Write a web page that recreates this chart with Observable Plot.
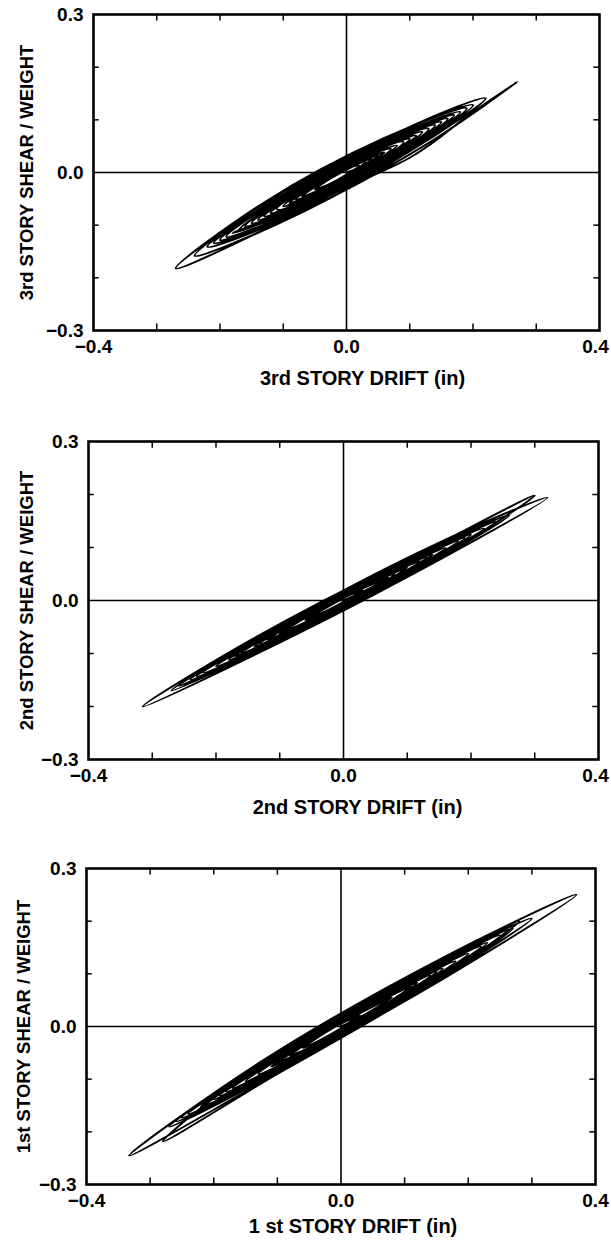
<!DOCTYPE html>
<html><head><meta charset="utf-8">
<script src="https://cdn.jsdelivr.net/npm/d3@7"></script>
<script src="https://cdn.jsdelivr.net/npm/@observablehq/plot@0.6"></script>
<style>
html,body{margin:0;padding:0;background:#fff;}
#chart{position:relative;width:611px;height:1247px;overflow:hidden;background:#fff;}
#chart svg{position:absolute;left:0;}
</style></head><body><div id="chart"></div>
<script>
// ---- 3rd story (top panel) ----
const drift3 = [0.00,
 0.018, 0.042, 0.06,
 0.018, -0.038, -0.08,
 -0.02, 0.06, 0.12,
 0.039, -0.069, -0.15,
 -0.051, 0.081, 0.18,
 0.066, -0.086, -0.20,
 -0.092, 0.052, 0.16,
 0.046, -0.106, -0.22,
 -0.073, 0.123, 0.27,
 0.20, 0.10, -0.18,
 -0.066, 0.086, 0.20,
 0.059, -0.129, -0.27,
 -0.147, 0.017, 0.14,
 0.041, -0.091, -0.19,
 -0.067, 0.097, 0.22,
 0.106, -0.046, -0.16,
 -0.076, 0.036, 0.12,
 0.021, -0.111, -0.21,
 -0.096, 0.056, 0.17,
 0.08, -0.04, -0.13,
 -0.061, 0.031, 0.10,
 0.019, -0.089, -0.17,
 -0.074, 0.054, 0.15,
 0.069, -0.039, -0.12,
 -0.06, 0.02, 0.08,
 0.014, -0.074, -0.14,
 -0.065, 0.035, 0.11,
 0.047, -0.037, -0.10,
 -0.052, 0.012, 0.06,
 0.015, -0.045, -0.09,
 -0.048, 0.008, 0.05,
 0.014, -0.034, -0.07,
 -0.037, 0.007, 0.04,
 0.013, -0.023, -0.05,
 -0.029, 0.00, 0.02,
 -0.022, -0.078, -0.12,
 -0.057, 0.027, 0.09,
 0.015, -0.085, -0.16,
 -0.073, 0.043, 0.13,
 0.019, -0.129, -0.24,
 -0.111, 0.061, 0.19,
 0.10, -0.02, -0.11,
 -0.029, 0.079, 0.16,
 0.055, -0.085, -0.19,
 -0.112, -0.008, 0.07,
 0.025, -0.035, -0.08,
 -0.047, 0.00, 0.03];
const shear3 = [0.000,
 0.008, 0.023, 0.038,
 0.020, -0.016, -0.051,
 -0.025, 0.026, 0.077,
 0.041, -0.028, -0.096,
 -0.053, 0.032, 0.115,
 0.064, -0.033, -0.128,
 -0.080, 0.012, 0.102,
 0.051, -0.046, -0.141,
 -0.075, 0.051, 0.172,
 0.115, 0.028, -0.115,
 -0.064, 0.033, 0.128,
 0.065, -0.056, -0.182,
 -0.118, -0.013, 0.090,
 0.046, -0.038, -0.122,
 -0.067, 0.038, 0.141,
 0.090, -0.007, -0.102,
 -0.066, 0.006, 0.077,
 0.033, -0.051, -0.134,
 -0.083, 0.014, 0.109,
 0.069, -0.008, -0.083,
 -0.053, 0.006, 0.064,
 0.028, -0.041, -0.109,
 -0.066, 0.016, 0.096,
 0.060, -0.009, -0.077,
 -0.050, 0.001, 0.051,
 0.022, -0.034, -0.090,
 -0.057, 0.007, 0.070,
 0.043, -0.011, -0.064,
 -0.043, -0.002, 0.038,
 0.019, -0.020, -0.058,
 -0.039, -0.003, 0.032,
 0.016, -0.015, -0.045,
 -0.030, -0.002, 0.026,
 0.013, -0.010, -0.032,
 -0.023, -0.004, 0.013,
 -0.002, -0.038, -0.077,
 -0.054, -0.001, 0.058,
 0.030, -0.034, -0.102,
 -0.069, 0.006, 0.083,
 0.037, -0.058, -0.158,
 -0.099, 0.011, 0.122,
 0.086, 0.009, -0.070,
 -0.039, 0.031, 0.102,
 0.059, -0.030, -0.122,
 -0.092, -0.025, 0.045,
 0.028, -0.010, -0.051,
 -0.038, -0.008, 0.019];

// ---- 2nd story (middle panel) ----
const drift2 = [0.00,
 0.021, 0.049, 0.07,
 0.019, -0.049, -0.10,
 -0.028, 0.068, 0.14,
 0.044, -0.084, -0.18,
 -0.066, 0.086, 0.20,
 0.068, -0.108, -0.24,
 -0.09, 0.11, 0.26,
 0.088, -0.143, -0.315,
 -0.13, 0.116, 0.30,
 0.144, -0.064, -0.22,
 -0.058, 0.158, 0.32,
 0.146, -0.086, -0.26,
 -0.128, 0.048, 0.18,
 0.066, -0.086, -0.20,
 -0.074, 0.094, 0.22,
 0.112, -0.032, -0.14,
 -0.05, 0.07, 0.16,
 0.061, -0.071, -0.17,
 -0.083, 0.033, 0.12,
 0.048, -0.048, -0.12,
 -0.054, 0.034, 0.10,
 0.043, -0.033, -0.09,
 -0.045, 0.015, 0.06,
 0.027, -0.017, -0.05,
 -0.026, 0.006, 0.03,
 -0.027, -0.103, -0.16,
 -0.073, 0.043, 0.13,
 0.022, -0.122, -0.23,
 -0.089, 0.099, 0.24,
 0.129, 0.00, -0.13,
 -0.034, 0.094, 0.19,
 0.052, -0.132, -0.27,
 -0.165, -0.025, 0.08,
 0.038, -0.018, -0.06,
 -0.036, 0.004, 0.02];
const shear2 = [0.000,
 0.011, 0.028, 0.043,
 0.017, -0.025, -0.062,
 -0.024, 0.035, 0.087,
 0.037, -0.042, -0.112,
 -0.052, 0.042, 0.124,
 0.055, -0.054, -0.149,
 -0.071, 0.053, 0.161,
 0.071, -0.073, -0.200,
 -0.097, 0.056, 0.198,
 0.104, -0.025, -0.136,
 -0.052, 0.082, 0.194,
 0.107, -0.037, -0.161,
 -0.092, 0.017, 0.112,
 0.052, -0.042, -0.124,
 -0.059, 0.045, 0.136,
 0.080, -0.009, -0.087,
 -0.040, 0.034, 0.099,
 0.048, -0.034, -0.105,
 -0.060, 0.011, 0.074,
 0.037, -0.023, -0.074,
 -0.040, 0.014, 0.062,
 0.033, -0.014, -0.056,
 -0.033, 0.004, 0.037,
 0.021, -0.007, -0.031,
 -0.019, 0.001, 0.019,
 -0.009, -0.056, -0.099,
 -0.055, 0.017, 0.081,
 0.026, -0.064, -0.143,
 -0.069, 0.047, 0.149,
 0.092, 0.012, -0.081,
 -0.032, 0.047, 0.118,
 0.046, -0.068, -0.170,
 -0.114, -0.028, 0.050,
 0.030, -0.005, -0.037,
 -0.026, -0.002, 0.012];

// ---- 1st story (bottom panel) ----
const drift1 = [0.00,
 0.024, 0.056, 0.08,
 0.023, -0.053, -0.11,
 -0.032, 0.072, 0.15,
 0.048, -0.088, -0.19,
 -0.067, 0.097, 0.22,
 0.079, -0.109, -0.25,
 -0.094, 0.114, 0.27,
 0.105, -0.115, -0.28,
 -0.085, 0.175, 0.37,
 0.159, -0.122, -0.333,
 -0.143, 0.11, 0.30,
 0.132, -0.092, -0.26,
 -0.107, 0.097, 0.25,
 0.109, -0.079, -0.22,
 -0.094, 0.074, 0.20,
 0.068, -0.108, -0.24,
 -0.114, 0.054, 0.18,
 0.075, -0.065, -0.17,
 -0.077, 0.047, 0.14,
 0.053, -0.063, -0.15,
 -0.072, 0.032, 0.11,
 0.047, -0.037, -0.10,
 -0.049, 0.019, 0.07,
 0.031, -0.021, -0.06,
 -0.033, 0.003, 0.03,
 -0.039, -0.131, -0.20,
 -0.092, 0.052, 0.16,
 0.031, -0.141, -0.27,
 -0.12, 0.08, 0.23,
 0.122, -0.022, -0.13,
 -0.007, 0.157, 0.28,
 0.142, -0.042, -0.18,
 -0.09, 0.03, 0.12,
 0.06, -0.02, -0.08,
 -0.05, -0.01, 0.02];
const shear1 = [0.000,
 0.014, 0.036, 0.055,
 0.023, -0.030, -0.076,
 -0.031, 0.041, 0.104,
 0.045, -0.049, -0.131,
 -0.060, 0.053, 0.152,
 0.071, -0.059, -0.173,
 -0.083, 0.061, 0.186,
 0.091, -0.060, -0.218,
 -0.079, 0.101, 0.250,
 0.130, -0.064, -0.245,
 -0.119, 0.056, 0.205,
 0.111, -0.043, -0.180,
 -0.092, 0.049, 0.173,
 0.091, -0.039, -0.152,
 -0.080, 0.036, 0.138,
 0.062, -0.060, -0.166,
 -0.094, 0.022, 0.124,
 0.064, -0.033, -0.117,
 -0.064, 0.021, 0.097,
 0.047, -0.033, -0.104,
 -0.059, 0.013, 0.076,
 0.039, -0.019, -0.069,
 -0.040, 0.007, 0.048,
 0.026, -0.009, -0.041,
 -0.026, -0.001, 0.021,
 -0.018, -0.081, -0.138,
 -0.076, 0.023, 0.110,
 0.036, -0.082, -0.190,
 -0.100, 0.038, 0.159,
 0.097, -0.002, -0.090,
 -0.020, 0.093, 0.200,
 0.114, -0.013, -0.124,
 -0.073, 0.010, 0.083,
 0.049, -0.006, -0.055,
 -0.040, -0.012, 0.014];

const xDomain = [-0.4, 0.4];
const yDomain = [-0.3, 0.3];
const xTickLabels = [-0.4, 0.0, 0.4];
const yTickLabels = [-0.3, 0.0, 0.3];
const xMinorTicks = [-0.3, -0.2, -0.1, 0.1, 0.2, 0.3];
const yMinorTicks = [-0.2, -0.1, 0.1, 0.2];
const xLabels = ["3rd STORY DRIFT (in)", "2nd STORY DRIFT (in)", "1 st STORY DRIFT (in)"];
const yLabels = ["3rd STORY SHEAR / WEIGHT", "2nd STORY SHEAR / WEIGHT", "1st STORY SHEAR / WEIGHT"];

const layouts = [
  {top: 0,   mt: 14, plotH: 316, mb: 66, ml: 93, mr: 12, xdx: 16, xdy: 48, ydx: -66},
  {top: 420, mt: 21, plotH: 318, mb: 70, ml: 88, mr: 13, xdx: 14, xdy: 48, ydx: -61},
  {top: 840, mt: 28, plotH: 316, mb: 63, ml: 86, mr: 16, xdx: 12, xdy: 42, ydx: -62}
];
const series = [[drift3, shear3], [drift2, shear2], [drift1, shear1]];

const fmt = d3.format(".1f");
const chart = document.getElementById("chart");
const tick = 0.0125, tickX = 0.009;

series.forEach(([drift, shear], i) => {
  const L = layouts[i];
  const data = drift.map((d, k) => ({d, v: shear[k]}));
  const svg = Plot.plot({
    width: 611,
    height: L.mt + L.plotH + L.mb,
    marginTop: L.mt, marginBottom: L.mb, marginLeft: L.ml, marginRight: L.mr,
    style: {fontFamily: "'Liberation Sans', Arial, sans-serif", fontSize: "19px", fontWeight: "bold", color: "#000", background: "transparent", overflow: "visible"},
    x: {domain: xDomain},
    y: {domain: yDomain},
    marks: [
      Plot.axisX(xTickLabels.slice(0, 2), {tickSize: 0, tickPadding: 9, tickFormat: fmt, label: null, fontSize: 19}),
      Plot.axisX(xTickLabels.slice(2), {tickSize: 0, tickPadding: 9, tickFormat: fmt, label: null, fontSize: 19, dx: -4 + L.mr - 12}),
      Plot.axisY(yTickLabels, {tickSize: 0, tickPadding: 10, tickFormat: fmt, label: null, fontSize: 19}),
      Plot.ruleX(xMinorTicks, {y1: yDomain[0], y2: yDomain[0] + tick, stroke: "#000", strokeWidth: 1.5}),
      Plot.ruleX(xMinorTicks, {y1: yDomain[1], y2: yDomain[1] - tick, stroke: "#000", strokeWidth: 1.5}),
      Plot.ruleY(yMinorTicks, {x1: xDomain[0], x2: xDomain[0] + tickX, stroke: "#000", strokeWidth: 1.5}),
      Plot.ruleY(yMinorTicks, {x1: xDomain[1], x2: xDomain[1] - tickX, stroke: "#000", strokeWidth: 1.5}),
      Plot.ruleX([0], {stroke: "#000", strokeWidth: 1.6}),
      Plot.ruleY([0], {stroke: "#000", strokeWidth: 1.6}),
      Plot.line(data, {x: "d", y: "v", curve: "catmull-rom", stroke: "#000", strokeWidth: 2}),
      Plot.frame({stroke: "#000", strokeWidth: 2.6}),
      Plot.text([xLabels[i]], {frameAnchor: "bottom", textAnchor: "middle", lineAnchor: "middle", dx: L.xdx, dy: L.xdy, fontSize: 20, fill: "#000"}),
      Plot.text([yLabels[i]], {frameAnchor: "left", textAnchor: "middle", lineAnchor: "middle", rotate: -90, dx: L.ydx, fontSize: 18.5, fill: "#000"})
    ]
  });
  svg.style.top = L.top + "px";
  chart.appendChild(svg);
});
</script>
</body></html>
